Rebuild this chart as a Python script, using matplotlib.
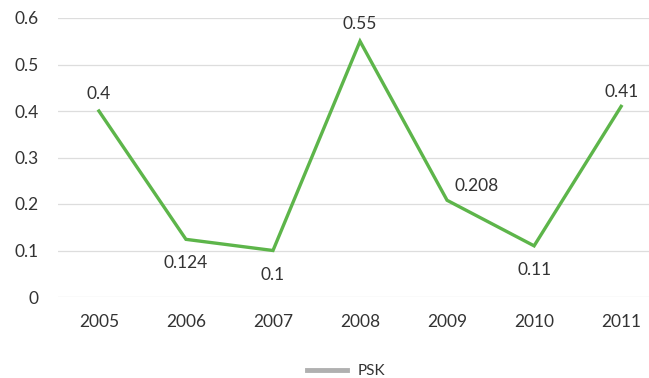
import matplotlib
matplotlib.use("Agg")
import matplotlib.pyplot as plt

years = ["2005", "2006", "2007", "2008", "2009", "2010", "2011"]
psk = [0.4, 0.124, 0.1, 0.55, 0.208, 0.11, 0.41]
# label placement per point: (dx px, dy px)
label_offsets = [(0, 17), (0, -24), (0, -24), (0, 17), (30, 14), (0, -24), (0, 14)]

plt.rcParams["font.family"] = ["Lato", "DejaVu Sans"]

fig = plt.figure(figsize=(6.49, 3.78), dpi=100)
ax = fig.add_axes([58 / 649, (378 - 297) / 378, (649 - 58) / 649, (297 - 18) / 378])

x = list(range(len(years)))
ax.plot(x, psk, color="#5db54a", linewidth=2.4, solid_joinstyle="miter", label="PSK", zorder=3)

for xi, v, (dx, dy) in zip(x, psk, label_offsets):
    ax.annotate(f"{v:g}", (xi, v), xytext=(dx * 0.72, dy * 0.72), textcoords="offset points",
                ha="center", va="center", fontsize=12.5, color="#333333")

ax.set_xlim(-0.47, 6.32)
ax.set_ylim(0, 0.6)
ax.set_yticks([0, 0.1, 0.2, 0.3, 0.4, 0.5, 0.6])
ax.set_yticklabels(["0", "0.1", "0.2", "0.3", "0.4", "0.5", "0.6"])
ax.set_xticks(x)
ax.set_xticklabels(years)
ax.tick_params(axis="both", length=0, labelsize=12.5, colors="#333333")
ax.tick_params(axis="y", pad=14)
ax.tick_params(axis="x", pad=12)
ax.grid(axis="y", color="#dddddd", linewidth=0.9)
ax.set_axisbelow(True)
for s in ax.spines.values():
    s.set_visible(False)

leg_handle = plt.Line2D([], [], color="#b0b0b0", linewidth=3.5)
fig.legend([leg_handle], ["PSK"], loc="center", bbox_to_anchor=(346 / 649, 1 - 371 / 378),
           frameon=False, fontsize=11, handlelength=2.6, handletextpad=0.7, labelcolor="#333333")

fig.savefig("out.png", dpi=100)
